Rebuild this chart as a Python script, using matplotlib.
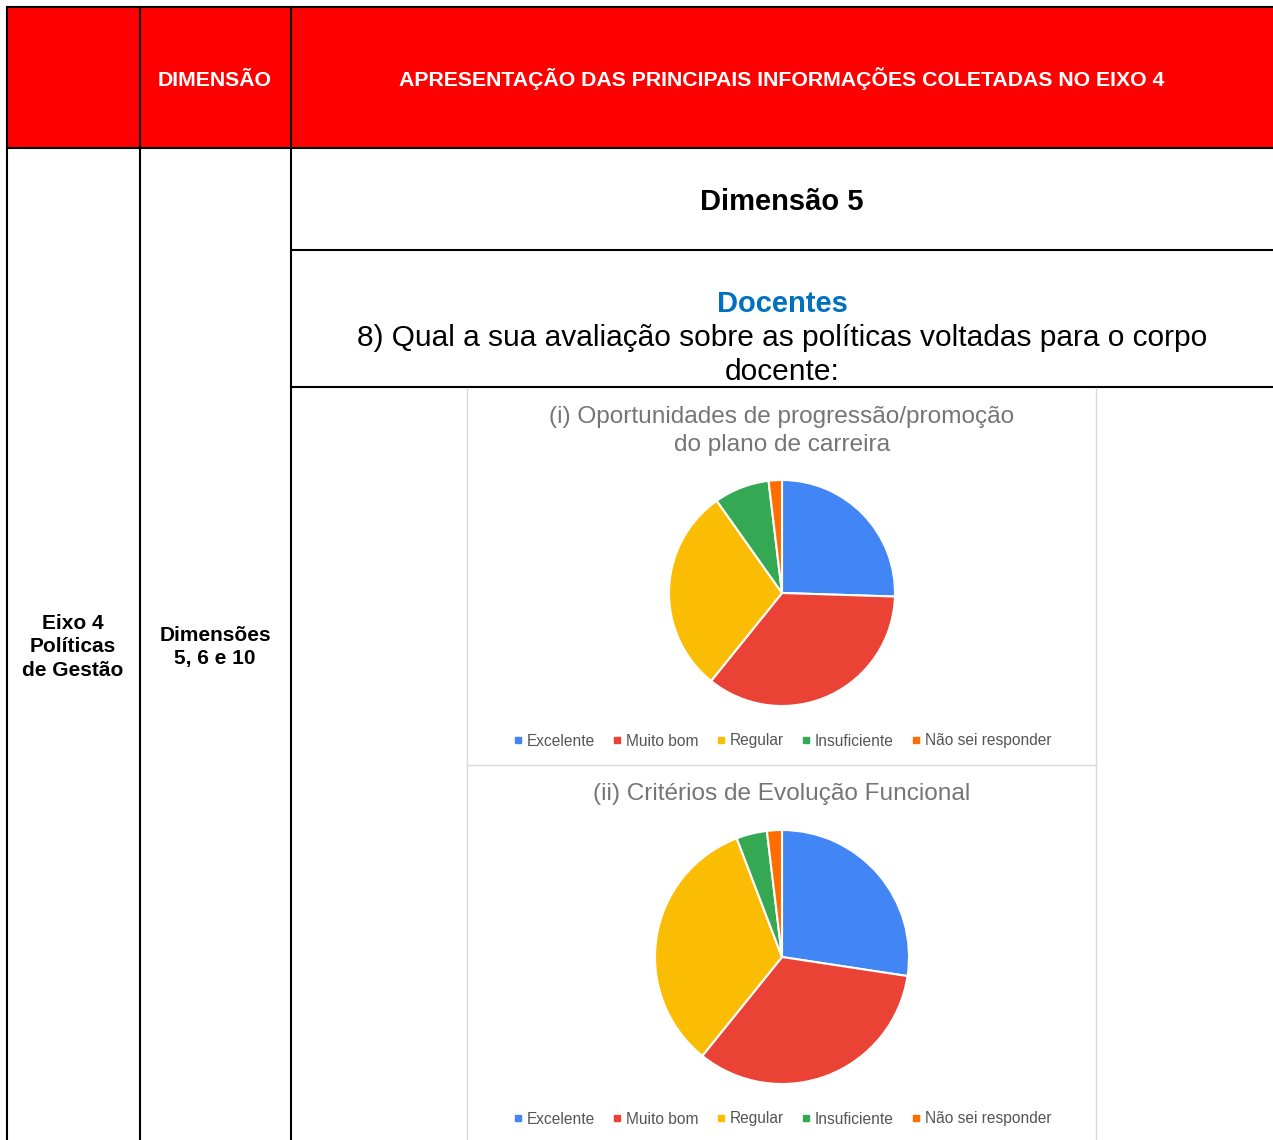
import matplotlib.pyplot as plt
from matplotlib.patches import Rectangle
from matplotlib.lines import Line2D

plt.rcParams['font.family'] = ['Liberation Sans', 'DejaVu Sans']

W, H = 1273, 1140

# data (percent of answers)
categories = ['Excelente', 'Muito bom', 'Regular', 'Insuficiente', 'Não sei responder']
colors = ['#4285F4', '#EA4335', '#FBBC04', '#34A853', '#FF6D01']
pie1_values = [25.5, 35.3, 29.4, 7.9, 1.9]
pie2_values = [27.4, 33.4, 33.4, 3.9, 1.9]
pie1_title = '(i) Oportunidades de progressão/promoção\ndo plano de carreira'
pie2_title = '(ii) Critérios de Evolução Funcional'

header_cols = ['', 'DIMENSÃO', 'APRESENTAÇÃO DAS PRINCIPAIS INFORMAÇÕES COLETADAS NO EIXO 4']

fig = plt.figure(figsize=(W / 100, H / 100), dpi=100)
ax = fig.add_axes([0, 0, 1, 1])
ax.set_xlim(0, W)
ax.set_ylim(H, 0)
ax.axis('off')

# red header
ax.add_patch(Rectangle((7, 7), W - 7, 141, facecolor='#FF0000', edgecolor='none'))

lw = 1.5
# table borders
for x in [7, 140, 291]:
    ax.plot([x, x], [7, H], color='black', lw=lw, solid_capstyle='projecting')
ax.plot([7, W], [7, 7], color='black', lw=lw)
ax.plot([7, W], [148, 148], color='black', lw=lw)
ax.plot([291, W], [250, 250], color='black', lw=lw)
ax.plot([291, W], [387, 387], color='black', lw=lw)

# chart frames
gray = '#d9d9d9'
ax.plot([467, 467], [388, H], color=gray, lw=1)
ax.plot([1096, 1096], [388, H], color=gray, lw=1)
ax.plot([467, 1096], [765, 765], color=gray, lw=1)

# header texts
ax.text(215, 86, header_cols[1], color='white', fontsize=15.3, fontweight='bold', ha='center', va='baseline')
ax.text(782, 86, header_cols[2], color='white', fontsize=15.3, fontweight='bold', ha='center', va='baseline')

# body texts
ax.text(73, 647, 'Eixo 4\nPolíticas\nde Gestão', fontsize=15, fontweight='bold',
        ha='center', va='center', linespacing=1.3)
ax.text(215, 647, 'Dimensões\n5, 6 e 10', fontsize=15, fontweight='bold',
        ha='center', va='center', linespacing=1.3)
ax.text(782, 202, 'Dimensão 5', fontsize=21, fontweight='bold', ha='center', va='center')
ax.text(782, 304, 'Docentes', fontsize=21, fontweight='bold', color='#0070C0', ha='center', va='center')
ax.text(782, 355, '8) Qual a sua avaliação sobre as políticas voltadas para o corpo\ndocente:',
        fontsize=21.5, ha='center', va='center', linespacing=1.25)


def draw_pie(values, title, cx, cy, r, title_y, legend_y):
    pax = fig.add_axes([(cx - r) / W, 1 - (cy + r) / H, 2 * r / W, 2 * r / H])
    pax.pie(values, colors=colors, startangle=90, counterclock=False,
            wedgeprops=dict(edgecolor='white', linewidth=1.5))
    pax.set_xlim(-1, 1)
    pax.set_ylim(-1, 1)
    pax.axis('off')
    ax.text(cx, title_y, title, fontsize=17.6, color='#757575', ha='center', va='center',
            linespacing=1.3)
    handles = [Line2D([], [], marker='s', linestyle='none', color=c, markersize=4) for c in colors]
    fig.legend(handles, categories, loc='center', bbox_to_anchor=(cx / W, 1 - legend_y / H),
               ncol=5, frameon=False, fontsize=11.2, labelcolor='#555555',
               handletextpad=0.2, columnspacing=1.1, handlelength=0.7)


draw_pie(pie1_values, pie1_title, 782, 593, 113, 431, 741)
draw_pie(pie2_values, pie2_title, 782, 957, 127, 794, 1119)

fig.savefig('out.png', dpi=100)
